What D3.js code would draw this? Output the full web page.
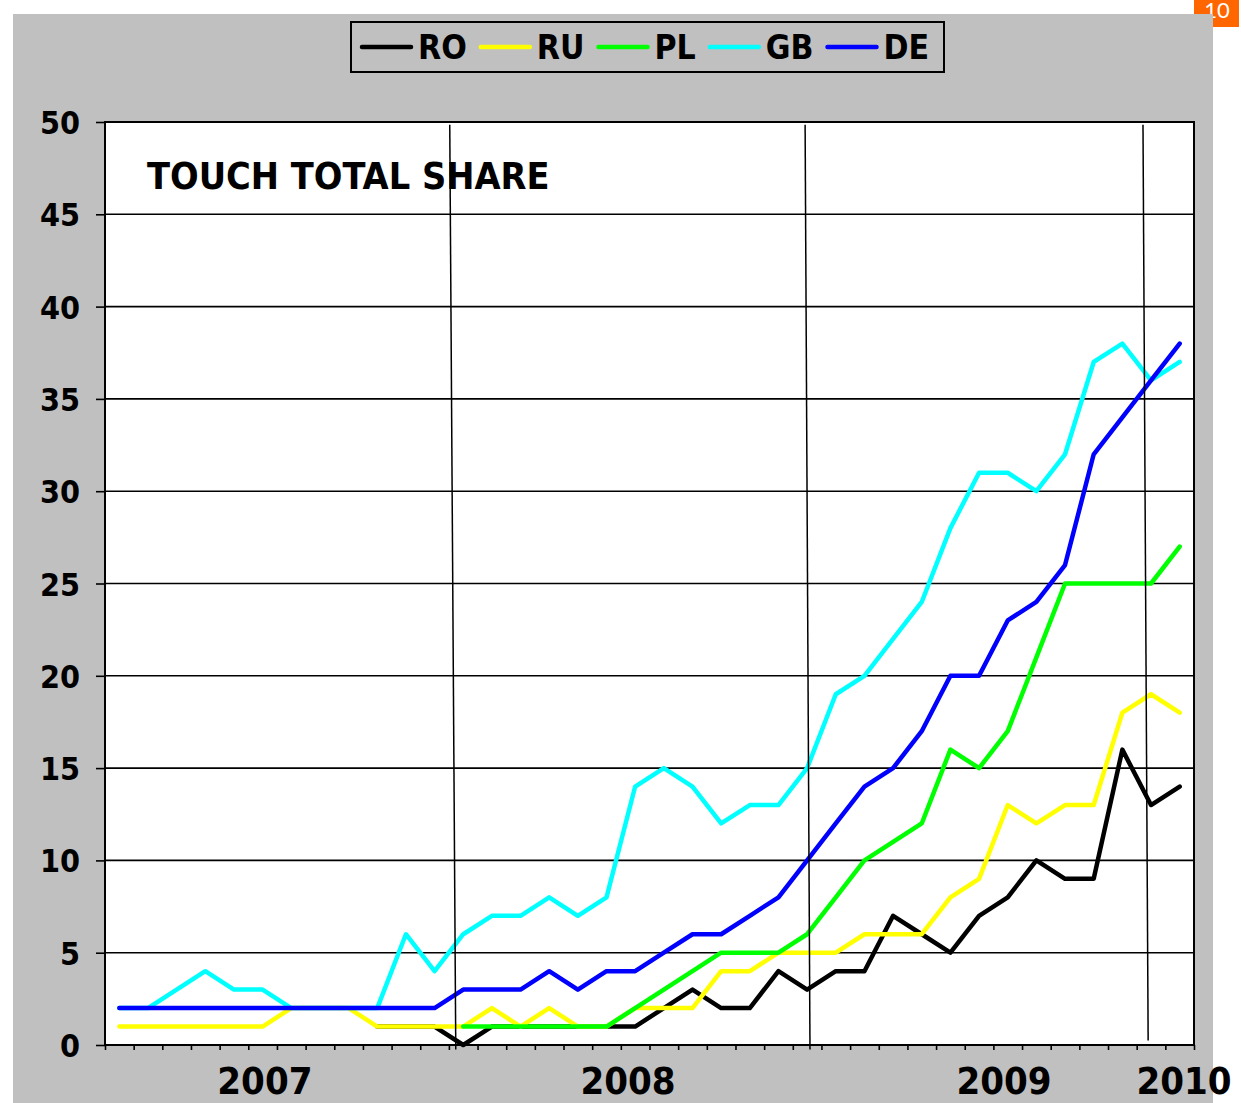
<!DOCTYPE html>
<html>
<head>
<meta charset="utf-8">
<script src="https://cdn.jsdelivr.net/npm/d3@7"></script>
<style>
  body { margin: 0; background: #fff; }
  text { font-family: "DejaVu Sans Condensed", "DejaVu Sans", sans-serif; font-weight: bold; }
</style>
</head>
<body>
<div id="chart"></div>
<script>
// months Jan 2007 .. Feb 2010
var months = ["2007-01","2007-02","2007-03","2007-04","2007-05","2007-06","2007-07","2007-08","2007-09","2007-10","2007-11","2007-12",
              "2008-01","2008-02","2008-03","2008-04","2008-05","2008-06","2008-07","2008-08","2008-09","2008-10","2008-11","2008-12",
              "2009-01","2009-02","2009-03","2009-04","2009-05","2009-06","2009-07","2009-08","2009-09","2009-10","2009-11","2009-12",
              "2010-01","2010-02"];

var ro = [null,null,null,null,null,null,null,null,null,1,1,1,
          0,1,1,1,1,1,1,2,3,2,2,4,
          3,4,4,7,6,5,7,8,10,9,9,16,
          13,14];
var ru = [1,1,1,1,1,1,2,2,2,1,1,1,
          1,2,1,2,1,1,2,2,2,4,4,5,
          5,5,6,6,6,8,9,13,12,13,13,18,
          19,18];
var pl = [null,null,null,null,null,null,null,null,null,null,null,null,
          1,1,1,1,1,1,2,3,4,5,5,5,
          6,8,10,11,12,16,15,17,21,25,25,25,
          25,27];
var gb = [2,2,3,4,3,3,2,2,2,2,6,4,
          6,7,7,8,7,8,14,15,14,12,13,13,
          15,19,20,22,24,28,31,31,30,32,37,38,
          36,37];
var de = [2,2,2,2,2,2,2,2,2,2,2,2,
          3,3,3,4,3,4,4,5,6,6,7,8,
          10,12,14,15,17,20,20,23,24,26,32,34,
          36,38];

var seriesNames = ["RO", "RU", "PL", "GB", "DE"];
var seriesColors = ["#000000", "#FFFF00", "#00FF00", "#00FFFF", "#0000FF"];

var yTicks = [0, 5, 10, 15, 20, 25, 30, 35, 40, 45, 50];
var yearLabels = ["2007", "2008", "2009", "2010"];
var yearAt = [5.58, 18.25, 31.37, 37.65];           // in month units
var dividers = [[12.03, 12.24], [24.43, 24.6], [36.22, 36.4]];  // hand drawn year separators (top, bottom)

var chartTitle = "TOUCH TOTAL SHARE";
var badgeText = "10";

function main() {
    var W = 1241, H = 1103;
    var pLeft = 105, pRight = 1194, pTop = 122, pBottom = 1045;

    var svg = d3.select("#chart").append("svg")
        .attr("width", W)
        .attr("height", H);

    // page number badge (partly hidden by the grey panel)
    svg.append("rect").attr("x", 1194).attr("y", 0).attr("width", 45).attr("height", 27).style("fill", "#FF6600");
    svg.append("text").attr("x", 1217).attr("y", 18).attr("text-anchor", "middle")
       .style("font-family", "Lato, 'DejaVu Sans', sans-serif").style("font-weight", "normal")
       .style("font-size", "22px").style("fill", "#fff").text(badgeText);

    svg.append("rect").attr("x", 13).attr("y", 14).attr("width", 1200).attr("height", H - 14)
       .style("fill", "#C0C0C0");

    var x = d3.scaleLinear().domain([0, months.length]).range([pLeft, pRight]);
    var y = d3.scaleLinear().domain([0, 50]).range([pBottom, pTop]);

    svg.append("rect").attr("x", pLeft).attr("y", pTop).attr("width", pRight - pLeft).attr("height", pBottom - pTop)
       .style("fill", "#fff");

    // gridlines
    svg.append("g").selectAll("line")
       .data(yTicks.filter(function (d) { return d > 0 && d < 50; }))
       .enter().append("line")
       .attr("x1", pLeft).attr("x2", pRight)
       .attr("y1", function (d) { return y(d); })
       .attr("y2", function (d) { return y(d); })
       .style("stroke", "#000").style("stroke-width", 1.6);

    // axes
    var yAxis = svg.append("g").attr("transform", "translate(" + pLeft + ",0)")
       .call(d3.axisLeft(y).tickValues(yTicks).tickSize(9).tickPadding(16).tickSizeOuter(0));
    yAxis.select(".domain").remove();
    yAxis.selectAll("line").style("stroke", "#000").style("stroke-width", 1.6);
    yAxis.selectAll("text").style("font-size", "32px").style("fill", "#000").attr("dy", "0.36em");

    var xAxis = svg.append("g").attr("transform", "translate(0," + pBottom + ")")
       .call(d3.axisBottom(x).tickValues(d3.range(months.length + 1)).tickSize(5).tickFormat(""));
    xAxis.select(".domain").remove();
    xAxis.selectAll("line").style("stroke", "#000").style("stroke-width", 1.6);

    svg.append("g").selectAll("text")
       .data(yearLabels)
       .enter().append("text")
       .attr("x", function (d, i) { return x(yearAt[i]); })
       .attr("y", 1094)
       .attr("text-anchor", "middle")
       .style("font-size", "38px")
       .text(function (d) { return d; });

    // series
    var line = d3.line()
       .defined(function (d) { return d != null; })
       .x(function (d, i) { return x(i + 0.5); })
       .y(function (d) { return y(d); });

    var allSeries = [ro, ru, pl, gb, de];
    svg.append("g").selectAll("path")
       .data(allSeries)
       .enter().append("path")
       .attr("d", line)
       .style("fill", "none")
       .style("stroke", function (d, i) { return seriesColors[i]; })
       .style("stroke-width", 4.5)
       .style("stroke-linejoin", "round")
       .style("stroke-linecap", "round");

    // year separators
    svg.append("g").selectAll("line")
       .data(dividers)
       .enter().append("line")
       .attr("x1", function (d) { return x(d[0]); })
       .attr("x2", function (d) { return x(d[1]); })
       .attr("y1", y(49.85))
       .attr("y2", function (d, i) { return i == 2 ? y(0.25) : y(-0.25); })
       .style("stroke", "#000").style("stroke-width", 1.5);

    svg.append("rect").attr("x", pLeft).attr("y", pTop).attr("width", pRight - pLeft).attr("height", pBottom - pTop)
       .style("fill", "none").style("stroke", "#000").style("stroke-width", 2);

    svg.append("text").attr("x", 147).attr("y", 189)
       .style("font-size", "37.5px").text(chartTitle);

    // legend
    var lg = svg.append("g");
    lg.append("rect").attr("x", 351).attr("y", 22).attr("width", 593).attr("height", 50)
      .style("fill", "#C0C0C0").style("stroke", "#000").style("stroke-width", 2);
    var lx = 362;
    seriesNames.forEach(function (name, i) {
        lg.append("line").attr("x1", lx).attr("x2", lx + 49).attr("y1", 47).attr("y2", 47)
          .style("stroke", seriesColors[i]).style("stroke-width", 4.5).style("stroke-linecap", "round");
        var t = lg.append("text").attr("x", lx + 56).attr("y", 59)
          .style("font-size", "33.5px").text(name);
        lx = lx + 56 + t.node().getComputedTextLength() + 14;
    });
}

main();
</script>
</body>
</html>
